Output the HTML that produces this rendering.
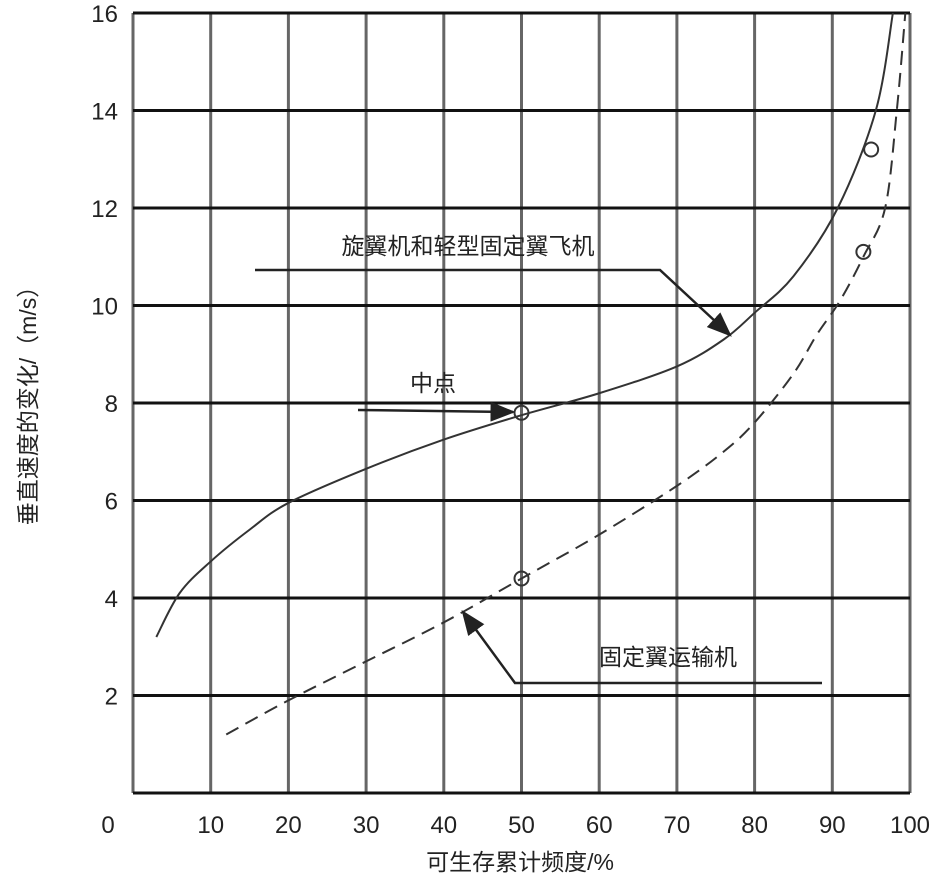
<!DOCTYPE html>
<html><head><meta charset="utf-8"><style>
body{margin:0;background:#fff;}
text{font-family:"Liberation Sans","Noto Sans CJK SC",sans-serif;fill:#222;}
</style></head><body>
<svg id="chart" width="940" height="887" viewBox="0 0 940 887" xmlns="http://www.w3.org/2000/svg">
<defs><marker id="ah" markerWidth="10" markerHeight="8" refX="9" refY="4" orient="auto"><path d="M0,0 L10,4 L0,8 z" fill="#222"/></marker></defs>
<g id="grid"></g>
<g id="series"></g>
<g id="annot">
<text x="468" y="254" font-size="23" text-anchor="middle">旋翼机和轻型固定翼飞机</text>
<polyline points="255,270 660,270 730,335" fill="none" stroke="#222" stroke-width="2.5" marker-end="url(#ah)"/>
<text x="433" y="391" font-size="23" text-anchor="middle">中点</text>
<polyline points="358,410 513,412" fill="none" stroke="#222" stroke-width="2.5" marker-end="url(#ah)"/>
<text x="668" y="665" font-size="23" text-anchor="middle">固定翼运输机</text>
<polyline points="822,683 515,683 463,612" fill="none" stroke="#222" stroke-width="2.5" marker-end="url(#ah)"/>
</g>
<text x="520" y="870" font-size="23" text-anchor="middle">可生存累计频度/%</text>
<text transform="translate(36,400) rotate(-90)" font-size="23" text-anchor="middle">垂直速度的变化/（m/s）</text>
</svg>
<script>
const xTicks=[0,10,20,30,40,50,60,70,80,90,100];
const yTicks=[2,4,6,8,10,12,14,16];
const solidX=[3,6,10,15,20,30,40,50,60,70,76,80,85,90.7,95.6,97.8];
const solidY=[3.2,4.1,4.75,5.4,5.95,6.65,7.25,7.75,8.2,8.75,9.3,9.85,10.6,12,14,16];
const dashX=[12,20,30,40,50,60,70,76,80,85,88,91,94,96.8,98.3,99.4];
const dashY=[1.2,1.9,2.7,3.5,4.4,5.3,6.3,7,7.6,8.6,9.4,10.1,11,12,14,16];
const markX=[50,95,50,94];
const markY=[7.8,13.2,4.4,11.1];
const X0=133,X1=910,Y0=793,Y1=13;
const sx=v=>X0+(X1-X0)*v/100, sy=v=>Y0-(Y0-Y1)*v/16;
const NS="http://www.w3.org/2000/svg";
function mk(tag,attrs,parent){const e=document.createElementNS(NS,tag);for(const k in attrs)e.setAttribute(k,attrs[k]);parent.appendChild(e);return e;}
const g=document.getElementById('grid'),s=document.getElementById('series');
xTicks.forEach(v=>{
 const l=mk('line',{x1:sx(v),x2:sx(v),y1:Y1,y2:Y0,stroke:'#666',"stroke-width":3},g);
 
 
 const t=mk('text',{x:v===0?108:sx(v),y:833,"font-size":24,"text-anchor":"middle"},g);t.textContent=v;
 
 
});
yTicks.forEach(v=>{
 const l=mk('line',{x1:X0,x2:X1,y1:sy(v),y2:sy(v),stroke:'#111',"stroke-width":3},g);
 
 
 const t=mk('text',{x:118,y:sy(v)+9,"font-size":24,"text-anchor":"end"},g);t.textContent=v;
 
 
});
const b=mk('line',{x1:X0,x2:X1,y1:Y0,y2:Y0,stroke:'#111',"stroke-width":3},g);


function path(xs,ys){let d='M'+sx(xs[0])+','+sy(ys[0]);for(let i=1;i<xs.length;i++){const p0=[sx(xs[Math.max(i-2,0)]),sy(ys[Math.max(i-2,0)])],p1=[sx(xs[i-1]),sy(ys[i-1])],p2=[sx(xs[i]),sy(ys[i])],p3=[sx(xs[Math.min(i+1,xs.length-1)]),sy(ys[Math.min(i+1,xs.length-1)])];d+=' C'+(p1[0]+(p2[0]-p0[0])/6)+','+(p1[1]+(p2[1]-p0[1])/6)+' '+(p2[0]-(p3[0]-p1[0])/6)+','+(p2[1]-(p3[1]-p1[1])/6)+' '+p2[0]+','+p2[1];}return d;}
const a=mk('path',{d:path(solidX,solidY),fill:'none',stroke:'#333',"stroke-width":2},s);


const c=mk('path',{d:path(dashX,dashY),fill:'none',stroke:'#333',"stroke-width":2,"stroke-dasharray":"14,8"},s);


markX.forEach((v,i)=>{const m=mk('circle',{cx:sx(v),cy:sy(markY[i]),r:7,fill:'none',stroke:'#333',"stroke-width":2},s);
 
 });
</script>
</body></html>
